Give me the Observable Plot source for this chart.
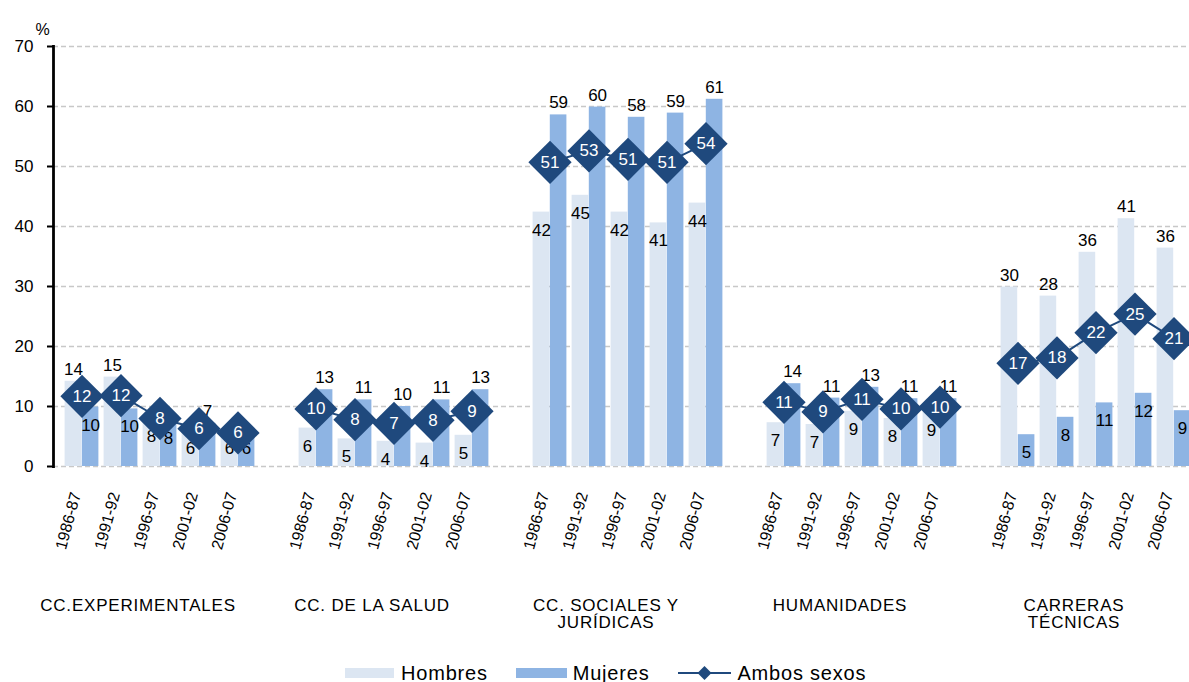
<!DOCTYPE html>
<html>
<head>
<meta charset="utf-8">
<script src="https://cdn.jsdelivr.net/npm/d3@7"></script>
<script src="https://cdn.jsdelivr.net/npm/@observablehq/plot@0.6"></script>
<style>
  html, body { margin: 0; padding: 0; background: white; overflow: hidden; }
  #chart svg { display: block; }
  #legend { display: flex; align-items: center; height: 26px; margin-left: 345px; margin-top: 8px;
    font-family: "Liberation Sans", Arial, sans-serif; font-size: 20px; letter-spacing: 0.8px; color: #000; }
  .sw { display: inline-block; height: 10px; }
</style>
</head>
<body>
<div id="chart"></div>
<div id="legend">
  <span class="sw" style="width:49px;background:#dce6f2"></span><span style="margin-left:7px">Hombres</span>
  <span class="sw" style="width:51px;background:#8eb4e3;margin-left:28px"></span><span style="margin-left:6px">Mujeres</span>
  <svg width="53" height="16" style="margin-left:29px"><line x1="0" y1="8" x2="53" y2="8" stroke="#1f497d" stroke-width="2"/><path d="M26.5,1 L33.5,8 L26.5,15 L19.5,8 Z" fill="#1f497d"/></svg><span style="margin-left:6px">Ambos sexos</span>
</div>
<script>
const groups = ["CC.EXPERIMENTALES", "CC. DE LA SALUD", "CC. SOCIALES Y JURÍDICAS", "HUMANIDADES", "CARRERAS TÉCNICAS"];
const groupLabels = ["CC.EXPERIMENTALES", "CC. DE LA SALUD", "CC. SOCIALES Y\nJURÍDICAS", "HUMANIDADES", "CARRERAS\nTÉCNICAS"];
const periods = ["1986-87", "1991-92", "1996-97", "2001-02", "2006-07"];
const hombres = [
  [14.2, 14.9, 8.0, 6.0, 6.0],
  [6.4, 4.6, 4.2, 3.9, 5.2],
  [42.4, 45.2, 42.4, 40.6, 43.9],
  [7.3, 7.0, 9.2, 8.0, 9.0],
  [29.9, 28.4, 35.7, 41.3, 36.4]
];
const mujeres = [
  [9.9, 9.6, 7.6, 7.2, 6.0],
  [12.8, 11.1, 10.0, 11.1, 12.8],
  [58.6, 59.9, 58.2, 58.9, 61.2],
  [13.8, 11.4, 13.2, 11.3, 11.3],
  [5.3, 8.2, 10.6, 12.2, 9.3]
];
const ambos = [
  [11.7, 11.8, 8.0, 6.3, 5.6],
  [9.6, 7.8, 7.2, 7.7, 9.2],
  [50.7, 52.6, 51.2, 50.7, 53.8],
  [10.7, 9.1, 11.2, 9.6, 9.9],
  [17.2, 18.1, 22.3, 25.4, 21.3]
];
const yTicks = [0, 10, 20, 30, 40, 50, 60, 70];

const NAVY = "#1f497d", HCOL = "#dce6f2", MCOL = "#8eb4e3";
const FONT = "'Liberation Sans', Arial, sans-serif";

// slot domain: 5 periods per group + an empty slot between groups
const slots = [];
groups.forEach((g, i) => {
  periods.forEach(p => slots.push(g + "|" + p));
  if (i < groups.length - 1) slots.push("gap" + i);
});

const rows = [];
groups.forEach((g, i) => periods.forEach((p, j) => {
  const h = hombres[i][j], m = mujeres[i][j], a = ambos[i][j];
  rows.push({group: g, period: p, slot: g + "|" + p, h, m, a,
    hAbove: Math.round(h) > Math.round(m), mAbove: Math.round(m) > Math.round(h)});
}));
const glab = groups.map((g, i) => ({slot: g + "|" + periods[2], label: groupLabels[i]}));

const plot = Plot.plot({
  width: 1189,
  height: 652,
  marginLeft: 53,
  marginRight: 0,
  marginTop: 46,
  marginBottom: 186,
  style: {fontFamily: FONT, color: "#000", background: "white"},
  x: {type: "band", domain: slots, range: [53, 1201], padding: 0},
  y: {domain: [0, 70]},
  marks: [
    Plot.gridY(yTicks, {stroke: "#c8c8c8", strokeOpacity: 1, strokeDasharray: "5,3", strokeWidth: 1.3}),
    Plot.barY(rows, {x: "slot", y: "h", fill: HCOL, insetLeft: 2.6, insetRight: 19.8}),
    Plot.barY(rows, {x: "slot", y: "m", fill: MCOL, insetLeft: 19.8, insetRight: 2.6}),
    Plot.text(rows.filter(d => d.hAbove), {x: "slot", y: "h", text: d => Math.round(d.h), dx: -8.6, dy: -12, fontSize: 17, fill: "#000"}),
    Plot.text(rows.filter(d => !d.hAbove), {x: "slot", y: "h", text: d => Math.round(d.h), dx: -8.6, dy: 18, fontSize: 17, fill: "#000"}),
    Plot.text(rows.filter(d => d.mAbove), {x: "slot", y: "m", text: d => Math.round(d.m), dx: 8.6, dy: -12, fontSize: 17, fill: "#000"}),
    Plot.text(rows.filter(d => !d.mAbove), {x: "slot", y: "m", text: d => Math.round(d.m), dx: 8.6, dy: 18, fontSize: 17, fill: "#000"}),
    Plot.line(rows, {x: "slot", y: "a", z: "group", stroke: NAVY, strokeWidth: 2}),
    Plot.dot(rows, {x: "slot", y: "a", symbol: "diamond2", r: 19.5, fill: NAVY, stroke: "none"}),
    Plot.text(rows, {x: "slot", y: "a", text: d => Math.round(d.a), fill: "white", fontSize: 17}),
    Plot.frame({anchor: "left", stroke: "#000", strokeWidth: 2.8}),
    Plot.axisY({ticks: yTicks, tickSize: 6, tickPadding: 14, fontSize: 17, stroke: "#000", strokeWidth: 2, label: null}),
    Plot.axisX({tickRotate: -75, tickSize: 0, tickPadding: 26, dx: -6, fontSize: 16, label: null,
      tickFormat: k => k.startsWith("gap") ? "" : k.split("|")[1]}),
    Plot.text(glab, {x: "slot", text: "label", frameAnchor: "bottom", lineAnchor: "top", dy: 132, dx: -22,
      fontSize: 17, fill: "#000"}),
    Plot.text(["%"], {frameAnchor: "top-left", dx: -18, dy: -23, fontSize: 16, fill: "#000"})
  ]
});
// looser letter spacing for the group (category) labels, as in the original
d3.select(plot).selectAll("text").each(function() {
  if (/[A-Z]{4}/.test(this.textContent)) this.style.letterSpacing = "0.8px";
});
document.getElementById("chart").appendChild(plot);
</script>
</body>
</html>
